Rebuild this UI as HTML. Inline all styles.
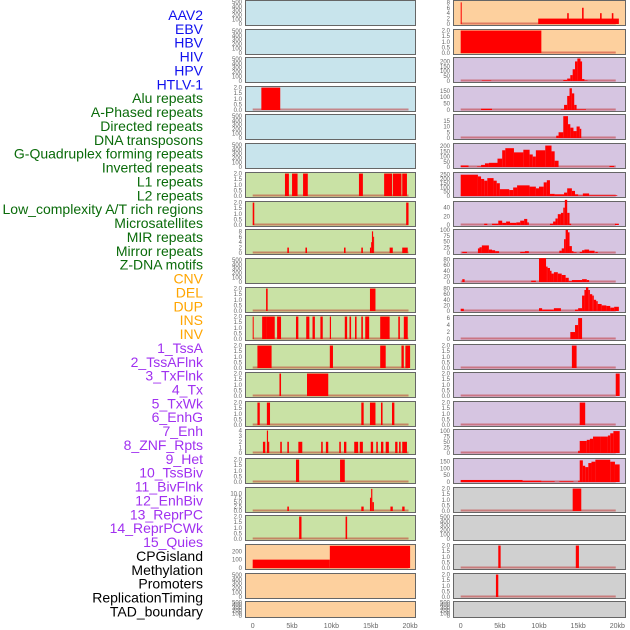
<!DOCTYPE html>
<html><head><meta charset="utf-8"><style>
body{margin:0;background:#fff;width:630px;height:630px;overflow:hidden}
svg{display:block}
</style></head><body>
<svg id="chart" width="630" height="630" xmlns="http://www.w3.org/2000/svg" font-family="Liberation Sans, sans-serif"></svg>
<script>
// ---- label data ----
const labelNames = ["AAV2","EBV","HBV","HIV","HPV","HTLV-1","Alu repeats","A-Phased repeats","Directed repeats","DNA transposons","G-Quadruplex forming repeats","Inverted repeats","L1 repeats","L2 repeats","Low_complexity A/T rich regions","Microsatellites","MIR repeats","Mirror repeats","Z-DNA motifs","CNV","DEL","DUP","INS","INV","1_TssA","2_TssAFlnk","3_TxFlnk","4_Tx","5_TxWk","6_EnhG","7_Enh","8_ZNF_Rpts","9_Het","10_TssBiv","11_BivFlnk","12_EnhBiv","13_ReprPC","14_ReprPCWk","15_Quies","CPGisland","Methylation","Promoters","ReplicationTiming","TAD_boundary"];
const labelGroups = [0,0,0,0,0,0,1,1,1,1,1,1,1,1,1,1,1,1,1,2,2,2,2,2,3,3,3,3,3,3,3,3,3,3,3,3,3,3,3,4,4,4,4,4];
const groupColors = ["#1010ee","#0a6b0a","#ffa500","#a030f0","#000000"];
// ---- x axis ----
const xTicks = [0,5,10,15,20];
const xTickLabels = ["0","5kb","10kb","15kb","20kb"];
// ---- panel backgrounds per row ----
const leftBg = ["b","b","b","b","b","b","g","g","g","g","g","g","g","g","g","g","g","g","g","o","o","o"];
const rightBg = ["o","o","p","p","p","p","p","p","p","p","p","p","p","p","p","p","p","gr","gr","gr","gr","gr"];
// ---- y-axis maxima and ticks ----
const leftMax = [520,520,520,2.05,520,520,2.05,2.05,8.5,520,2.05,2.05,2.05,2.05,2.05,4.1,2.05,13,2.05,275,520,520];
const leftTicks = ["e","e","e","2","e","e","2","2","8","e","2","2","2","2","2","4","2","12","2","c200","e","e"];
const rightMax = [8.5,2.05,235,180,20,220,270,53,100,82,82,6.6,2.05,2.05,2.05,105,170,2.05,520,2.05,2.05,520];
const rightTicks = ["8","2","200","150","15","200","250","40","100","80","80","6","2","2","2","100","150","2","e","2","2","e"];
// ---- series segments [startKb, endKb, value] ----
const L3 = [[1.1,3.5,2]];
const L6 = [[4.1,4.6,2],[5.0,5.7,2],[6.4,7.0,2],[13.5,14.0,2],[16.7,17.7,2],[17.8,18.9,2],[19.0,19.6,2]];
const L7 = [[0,0.2,2],[19.5,19.8,2]];
const L8 = [[4.4,4.6,2],[6.7,6.9,2],[11.6,11.8,2],[13.8,14.0,2],[14.9,15.05,2],[15.05,15.15,4],[15.15,15.3,8],[15.3,15.4,6],[17.4,17.8,2],[19.0,19.7,2]];
const L10 = [[1.7,1.9,2],[14.9,15.6,2]];
const L11 = [[0,0.1,2],[1.2,1.7,2],[1.7,2.8,2],[3.1,3.6,2],[5.5,5.8,2],[6.8,7.2,2],[7.6,7.9,2],[8.6,8.9,2],[9.8,9.95,2],[11.7,12.0,2],[12.3,12.5,2],[13.0,13.2,2],[13.8,14.0,2],[14.3,14.8,2],[16.2,17.4,2],[18.5,18.7,2],[19.2,19.7,2]];
const L12 = [[0.6,2.4,2],[9.8,10.2,2],[16.2,16.9,2],[18.9,19.2,2],[19.4,20.0,2]];
const L13 = [[3.4,3.6,2],[6.9,9.6,2]];
const L14 = [[0.6,0.9,2],[1.8,2.2,2],[13.8,14.1,2],[14.9,15.6,2],[16.3,16.5,2],[17.7,18.0,2]];
const L15 = [[1.3,1.6,2],[1.8,1.95,4],[1.95,2.1,2],[3.5,3.7,2],[4.4,4.6,2],[5.8,6.3,2],[8.7,8.9,2],[9.3,9.6,2],[11.0,11.2,2],[11.6,11.9,2],[12.9,13.4,2],[13.6,14.0,2],[15.0,15.3,2],[15.7,15.9,2],[16.3,16.6,2],[16.9,17.3,2],[18.1,18.4,2],[18.6,18.8,2],[19.0,19.6,2]];
const L16 = [[5.5,5.9,2],[11.1,11.7,2]];
const L17 = [[4.4,4.6,2.5],[13.8,14.1,2.5],[14.9,15.05,7.5],[15.05,15.2,12.5],[15.2,15.4,5],[17.5,17.8,2.5],[19.0,19.3,2.5]];
const L18 = [[5.9,6.2,2],[11.8,12.0,2]];
const L19 = [[0,9.8,100],[9.8,20,265]];
const R0 = [[0,0.1,8],[9.9,20.2,2],[13.6,13.8,4],[15.5,15.7,6],[17.8,18.0,4],[19.3,19.5,4]];
const R1 = [[0,10.3,2]];
const R2 = [[2.7,3.9,5],[13.1,13.6,10],[13.6,14.0,25],[14.0,14.3,60],[14.3,14.6,120],[14.6,14.9,200],[14.9,15.3,230],[15.3,15.5,200],[15.5,15.8,20],[15.8,16.2,5]];
const R3 = [[2.6,4.0,10],[12.8,13.2,5],[13.2,13.6,40],[13.6,13.9,110],[13.9,14.2,170],[14.2,14.5,130],[14.5,14.8,40],[14.8,16.0,5]];
const R4 = [[12.2,12.5,2],[12.5,13.1,5],[13.1,13.7,19],[13.7,14.0,12],[14.0,14.4,9],[14.4,14.8,6],[14.8,15.2,10],[15.2,15.4,8]];
const R5 = [[0,1.0,15],[2.1,2.6,5],[2.6,3.1,20],[3.1,3.6,35],[3.6,4.7,40],[4.7,5.3,80],[5.3,5.7,160],[5.7,6.8,180],[6.8,8.0,140],[8.0,8.8,165],[8.8,9.2,120],[9.2,9.6,100],[9.6,10.8,160],[10.8,11.6,205],[11.6,12.0,150],[12.0,12.5,60],[19.0,19.6,10]];
const R6 = [[0,2.2,250],[2.2,2.6,230],[2.6,3.0,200],[3.0,3.4,180],[3.4,4.2,210],[4.2,4.6,180],[4.6,5.0,150],[5.0,6.2,80],[6.2,6.7,70],[6.7,7.2,100],[7.2,8.8,125],[8.8,9.6,110],[9.6,10.0,90],[10.0,10.6,110],[10.6,11.0,160],[11.0,11.4,185],[11.4,12.0,25],[12.0,13.2,20],[13.2,13.6,40],[13.6,14.2,90],[14.2,14.6,60],[14.6,15.0,20],[15.0,15.6,5],[15.6,16.4,30],[16.4,20.0,8]];
const R7 = [[3.0,3.4,3],[4.0,4.8,3],[4.8,5.3,10],[5.3,5.8,5],[5.8,6.3,8],[6.3,7.1,5],[7.1,7.6,6],[7.6,8.1,10],[8.1,8.5,14],[8.5,8.7,6],[11.4,11.8,3],[11.8,12.1,8],[12.1,12.4,15],[12.4,12.8,25],[12.8,13.1,28],[13.1,13.3,40],[13.3,13.6,58],[13.6,13.9,28],[13.9,14.1,3],[19.7,20.2,3]];
const R8 = [[0.2,0.8,5],[2.2,2.4,20],[2.4,2.7,25],[2.7,3.6,33],[3.6,4.0,15],[4.0,4.4,12],[4.4,4.9,8],[7.6,8.2,5],[8.2,8.7,8],[12.6,12.9,10],[12.9,13.2,20],[13.2,13.4,60],[13.4,13.7,100],[13.7,13.9,90],[13.9,14.2,30],[14.2,14.4,8],[14.4,14.8,3],[15.2,15.5,5],[15.5,15.8,12],[15.8,16.4,15],[16.4,17.1,10],[17.2,17.5,5]];
const R9 = [[0.2,0.5,10],[9.0,9.6,5],[10.0,10.9,85],[10.9,11.1,55],[11.1,11.4,50],[11.4,11.6,40],[11.6,11.9,30],[11.9,12.4,35],[12.4,12.9,30],[12.9,13.4,25],[13.4,13.8,15],[13.8,14.2,3],[14.2,15.5,7],[15.5,16.1,10],[16.1,16.4,7]];
const R10 = [[0,0.4,8],[10.0,10.4,10],[10.4,11.9,5],[11.9,12.8,10],[14.6,15.0,5],[15.0,15.5,10],[15.5,15.8,55],[15.8,16.0,75],[16.0,16.3,85],[16.3,16.5,75],[16.5,16.8,60],[16.8,17.0,55],[17.0,17.3,40],[17.3,17.5,35],[17.5,18.0,25],[18.0,18.6,20],[18.6,19.1,18],[19.1,19.6,12],[19.6,20.2,15]];
const R11 = [[14.0,14.6,2],[14.6,15.0,4],[15.0,15.5,6]];
const R12 = [[14.2,14.8,2]];
const R13 = [[19.8,20.3,2]];
const R14 = [[15.2,15.9,2]];
const R15 = [[15.0,15.2,10],[15.2,16.1,55],[16.1,16.5,60],[16.5,16.9,65],[16.9,17.8,75],[17.8,18.8,75],[18.8,19.1,80],[19.1,19.5,90],[19.5,20.3,100]];
const R16 = [[0,7.9,15],[7.9,10.3,10],[10.3,12.0,5],[12.6,14.4,5],[15.0,15.2,10],[15.2,15.6,160],[15.6,15.9,120],[15.9,16.3,110],[16.3,16.7,140],[16.7,17.2,150],[17.2,19.1,165],[19.1,19.7,150],[19.7,20.3,130]];
const R17 = [[14.3,15.4,2]];
const R19 = [[4.8,5.1,2],[14.7,15.1,2]];
const R20 = [[4.5,4.8,2]];
const leftSeries = {3:L3,6:L6,7:L7,8:L8,10:L10,11:L11,12:L12,13:L13,14:L14,15:L15,16:L16,17:L17,18:L18,19:L19};
const rightSeries = {0:R0,1:R1,2:R2,3:R3,4:R4,5:R5,6:R6,7:R7,8:R8,9:R9,10:R10,11:R11,12:R12,13:R13,14:R14,15:R15,16:R16,17:R17,19:R19,20:R20};

const NS = "http://www.w3.org/2000/svg";
const svg = document.getElementById("chart");
const rowTops = [0,29,57,86,114,143,172,201,229,258,287,315,344,372,401,429,458,487,515,544,573,601];
const bgColor = {b:"#c8e4ec",g:"#c9e2a5",o:"#fdd09e",p:"#d6c5e1",gr:"#d0d0d0"};
const cols = [
  {x0:245,x1:416,ox:252.7,k:7.87,bg:leftBg,max:leftMax,ticks:leftTicks,series:leftSeries,name:"left"},
  {x0:453,x1:626,ox:460.7,k:7.83,bg:rightBg,max:rightMax,ticks:rightTicks,series:rightSeries,name:"right"}
];
function mk(tag, attrs){const e=document.createElementNS(NS,tag);for(const a in attrs)e.setAttribute(a,attrs[a]);svg.appendChild(e);return e;}
function tickVals(code,max){
  if(code==="e")return [0,100,200,300,400,500];
  if(code==="c200")return [0,100,200];
  const m=parseFloat(code);let step;
  if(code==="2")step=0.5;else if(code==="4")step=1;else if(code==="6")step=2;else if(code==="8")step=2;else if(code==="12")step=2.5;
  else if(code==="15")step=5;else if(code==="40")step=20;else if(code==="80")step=20;else if(code==="100")step=25;else step=50;
  const v=[];for(let t=0;t<=m+1e-9;t+=step)v.push(Math.round(t*100)/100);return v;
}
function fmt(code,t){if(code==="2"||code==="12")return t.toFixed(1);return String(t);}

cols.forEach(c=>{
  rowTops.forEach((top,i)=>{
    const h = i===21?16:25;
    const bottom = top+h;
    const xs = kb=>c.ox+kb*c.k;
    const ys = v=>bottom-1-(v/c.max[i])*(h-2);
    const r=mk("rect",{x:c.x0+0.5,y:top+0.5,width:c.x1-c.x0-1,height:h,fill:bgColor[c.bg[i]],stroke:"#666","stroke-width":1});
    
    
    tickVals(c.ticks[i],c.max[i]).forEach(t=>{
      const tx=mk("text",{x:c.x0-3,y:ys(t)+2,"font-size":6,fill:"#666","text-anchor":"end"});
      tx.textContent=fmt(c.ticks[i],t);
      
      
    });
    const segs=c.series[i];
    if(segs){
      const bl=mk("line",{x1:xs(0),x2:xs(19.8),y1:bottom-1.5,y2:bottom-1.5,stroke:"rgba(190,20,20,0.45)","stroke-width":2});
      
      
      segs.forEach(s=>{
        const y=ys(s[2]);
        const b=mk("rect",{x:xs(s[0]),y:y,width:Math.max(1,xs(s[1])-xs(s[0])),height:bottom-1-y,fill:"#ff0000"});
        
        
      });
    }
  });
  xTicks.forEach((t,j)=>{
    const tx=mk("text",{x:c.ox+t*c.k,y:628,"font-size":7,fill:"#666","text-anchor":"middle"});
    tx.textContent=xTickLabels[j];
    
    
  });
});
labelNames.forEach((n,i)=>{
  const tx=mk("text",{x:203,y:20+i*13.87,"font-size":14,fill:groupColors[labelGroups[i]],"text-anchor":"end"});
  tx.textContent=n;
  
  
});
</script>
</body></html>
